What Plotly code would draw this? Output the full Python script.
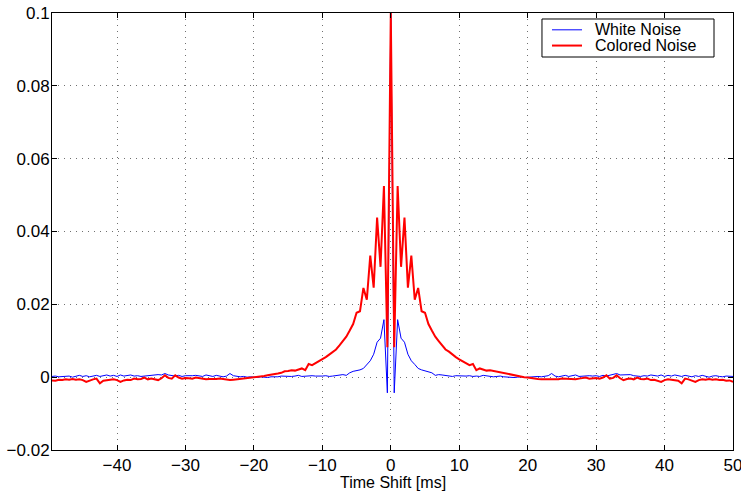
import plotly.graph_objects as go

# Time lags [ms], sample spacing 0.5 ms, from -49.5 to 50
lags = [round(-49.5 + 0.5 * i, 1) for i in range(200)]

# White noise autocorrelation, negative lags (-49.5 ... -0.5)
white_neg = [
    0.0002, 0.0003, 0.0001, 0.0002, 0.0004, 0.0003, 0.0000, 0.0003, 0.0005, 0.0002,
    0.0004, 0.0001, 0.0003, 0.0005, 0.0002, 0.0004, 0.0006, 0.0003, 0.0005, 0.0002,
    0.0006, 0.0003, 0.0004, 0.0006, 0.0003, 0.0004, 0.0002, 0.0003, 0.0004, 0.0007,
    0.0006, 0.0007, 0.0006, 0.0010, 0.0006, 0.0005, 0.0003, 0.0005, 0.0002, 0.0004,
    0.0003, 0.0004, 0.0005, 0.0003, 0.0002, 0.0006, 0.0004, 0.0002, 0.0005, 0.0004,
    0.0001, 0.0003, 0.0010, 0.0004, 0.0002, 0.0001, 0.0002, 0.0000, 0.0001, 0.0000,
    -0.0001, 0.0001, 0.0000, -0.0001, 0.0001, 0.0000, 0.0001, 0.0003, 0.0002, 0.0001,
    0.0002, 0.0003, 0.0005, 0.0002, 0.0003, 0.0002, 0.0004, 0.0003, 0.0002, 0.0003,
    0.0004, 0.0002, 0.0003, 0.0004, 0.0006, 0.0007, 0.0005, 0.0012, 0.0016, 0.0017,
    0.0020, 0.0024, 0.0035, 0.0045, 0.0063, 0.0096, 0.0107, 0.0158, -0.0043,
]
# White noise autocorrelation, lags 0 ... 50
white_pos = [
    0.1000, -0.0043, 0.0158, 0.0107, 0.0096, 0.0063, 0.0045, 0.0035, 0.0024, 0.0020,
    0.0017, 0.0016, 0.0012, 0.0005, 0.0007, 0.0006, 0.0004, 0.0003, 0.0002, 0.0004,
    0.0003, 0.0002, 0.0003, 0.0004, 0.0002, 0.0003, 0.0002, 0.0005, 0.0003, 0.0002,
    0.0001, 0.0002, 0.0003, 0.0001, 0.0000, 0.0001, -0.0001, 0.0000, 0.0001, -0.0001,
    0.0000, 0.0001, 0.0000, 0.0002, 0.0001, 0.0002, 0.0004, 0.0010, 0.0003, 0.0001,
    0.0004, 0.0005, 0.0002, 0.0004, 0.0006, 0.0002, 0.0003, 0.0005, 0.0004, 0.0003,
    0.0004, 0.0002, 0.0005, 0.0003, 0.0005, 0.0006, 0.0010, 0.0006, 0.0007, 0.0006,
    0.0007, 0.0004, 0.0003, 0.0002, 0.0004, 0.0003, 0.0006, 0.0004, 0.0003, 0.0006,
    0.0002, 0.0005, 0.0003, 0.0006, 0.0004, 0.0002, 0.0005, 0.0003, 0.0001, 0.0004,
    0.0002, 0.0005, 0.0003, 0.0000, 0.0003, 0.0004, 0.0002, 0.0001, 0.0003, 0.0002,
    0.0002,
]

# Colored noise autocorrelation, negative lags (-49.5 ... -0.5)
colored_neg = [
    -0.0009, -0.0010, -0.0007, -0.0008, -0.0006, -0.0007, -0.0005, -0.0007, -0.0006, -0.0008,
    -0.0013, -0.0009, -0.0006, -0.0004, -0.0017, -0.0010, -0.0009, -0.0007, -0.0006, -0.0008,
    -0.0013, -0.0009, -0.0007, -0.0008, -0.0004, -0.0006, -0.0005, -0.0001, -0.0006, -0.0004,
    -0.0005, -0.0008, -0.0003, 0.0005, -0.0002, -0.0004, 0.0005, -0.0001, -0.0004, -0.0002,
    -0.0003, -0.0004, -0.0001, -0.0003, -0.0004, -0.0006, -0.0005, -0.0006, -0.0005, -0.0004,
    -0.0006, -0.0008, -0.0008, -0.0007, -0.0006, -0.0006, -0.0005, -0.0004, -0.0003, -0.0001,
    0.0000, 0.0001, 0.0003, 0.0005, 0.0006, 0.0008, 0.0010, 0.0012, 0.0016, 0.0017,
    0.0019, 0.0018, 0.0020, 0.0024, 0.0019, 0.0036, 0.0033, 0.0038, 0.0043, 0.0049,
    0.0055, 0.0062, 0.0070, 0.0076, 0.0087, 0.0099, 0.0111, 0.0128, 0.0146, 0.0177,
    0.0181, 0.0245, 0.0213, 0.0334, 0.0246, 0.0438, 0.0303, 0.0525, 0.0082,
]
# Colored noise autocorrelation, lags 0 ... 50
colored_pos = [
    0.1000, 0.0082, 0.0525, 0.0303, 0.0438, 0.0246, 0.0334, 0.0213, 0.0245, 0.0181,
    0.0177, 0.0146, 0.0128, 0.0111, 0.0099, 0.0087, 0.0076, 0.0070, 0.0062, 0.0055,
    0.0049, 0.0043, 0.0038, 0.0033, 0.0036, 0.0019, 0.0024, 0.0020, 0.0018, 0.0019,
    0.0017, 0.0016, 0.0012, 0.0010, 0.0008, 0.0006, 0.0005, 0.0003, 0.0001, 0.0000,
    -0.0001, -0.0003, -0.0004, -0.0005, -0.0006, -0.0006, -0.0007, -0.0008, -0.0008, -0.0006,
    -0.0004, -0.0005, -0.0006, -0.0005, -0.0006, -0.0004, -0.0003, -0.0001, -0.0004, -0.0003,
    -0.0002, -0.0004, -0.0001, 0.0005, -0.0004, -0.0002, 0.0005, -0.0003, -0.0008, -0.0005,
    -0.0004, -0.0006, -0.0001, -0.0005, -0.0006, -0.0004, -0.0008, -0.0007, -0.0009, -0.0013,
    -0.0008, -0.0006, -0.0007, -0.0009, -0.0010, -0.0017, -0.0004, -0.0006, -0.0009, -0.0013,
    -0.0008, -0.0006, -0.0007, -0.0005, -0.0007, -0.0006, -0.0008, -0.0007, -0.0010, -0.0009,
    -0.0013,
]

white = white_neg + white_pos
colored = colored_neg + colored_pos

series_names = ["White Noise", "Colored Noise"]
series_colors = ["#0000ff", "#ff0000"]
series_widths = [1, 2]

x_ticks = [-40, -30, -20, -10, 0, 10, 20, 30, 40, 50]
x_ticktext = ["\u221240", "\u221230", "\u221220", "\u221210", "0", "10", "20", "30", "40", "50"]
y_ticks = [-0.02, 0, 0.02, 0.04, 0.06, 0.08, 0.1]
y_ticktext = ["\u22120.02", "0", "0.02", "0.04", "0.06", "0.08", "0.1"]
x_title = "Time Shift [ms]"

FONT = "Liberation Sans, Arial, Helvetica, sans-serif"

fig = go.Figure()
for name, ys, col, w in zip(series_names, [white, colored], series_colors, series_widths):
    fig.add_trace(go.Scatter(x=lags, y=ys, mode="lines", name=name,
                             line=dict(color=col, width=w)))

axis_common = dict(
    showline=True, linecolor="black", linewidth=1, mirror="ticks",
    ticks="inside", ticklen=5, tickcolor="black", tickwidth=1,
    showgrid=True, gridcolor="#707070", gridwidth=1, griddash="1px,5px",
    zeroline=False, automargin=False, ticklabeloverflow="allow",
    tickfont=dict(family=FONT, size=17, color="black"),
)

fig.update_layout(
    width=741, height=491,
    margin=dict(l=52, r=8, t=13, b=41),
    paper_bgcolor="white", plot_bgcolor="white",
    font=dict(family=FONT, size=17, color="black"),
    xaxis=dict(range=[-49.5, 50], tickvals=x_ticks, ticktext=x_ticktext,
               ticklabelstandoff=0, **axis_common),
    yaxis=dict(range=[-0.02, 0.1], tickvals=y_ticks, ticktext=y_ticktext,
               ticklabelstandoff=-2, **axis_common),
    showlegend=False,
)

# x-axis title
fig.add_annotation(text=x_title, xref="paper", yref="paper", x=0.5, y=-0.075,
                   xanchor="center", yanchor="middle", showarrow=False,
                   font=dict(family=FONT, size=16, color="black"))

# Legend box (MATLAB style, tight rows)
fig.add_shape(type="rect", xref="paper", yref="paper",
              x0=0.7195, x1=0.9721, y0=0.8993, y1=0.9863,
              line=dict(color="black", width=1), fillcolor="white", layer="above")
row_y = [0.9615, 0.9255]
for name, col, w, yy in zip(series_names, series_colors, series_widths, row_y):
    fig.add_shape(type="line", xref="paper", yref="paper",
                  x0=0.7342, x1=0.7783, y0=yy, y1=yy,
                  line=dict(color=col, width=w), layer="above")
    fig.add_annotation(text=name, xref="paper", yref="paper", x=0.7944, y=yy,
                       xanchor="left", yanchor="middle", showarrow=False,
                       font=dict(family=FONT, size=16, color="black"))

# Remove the default 8 px page margin so the figure fills the window exactly.
fig.write_html("out.html", config={"displayModeBar": False},
               post_script="document.body.style.margin='0px';")
